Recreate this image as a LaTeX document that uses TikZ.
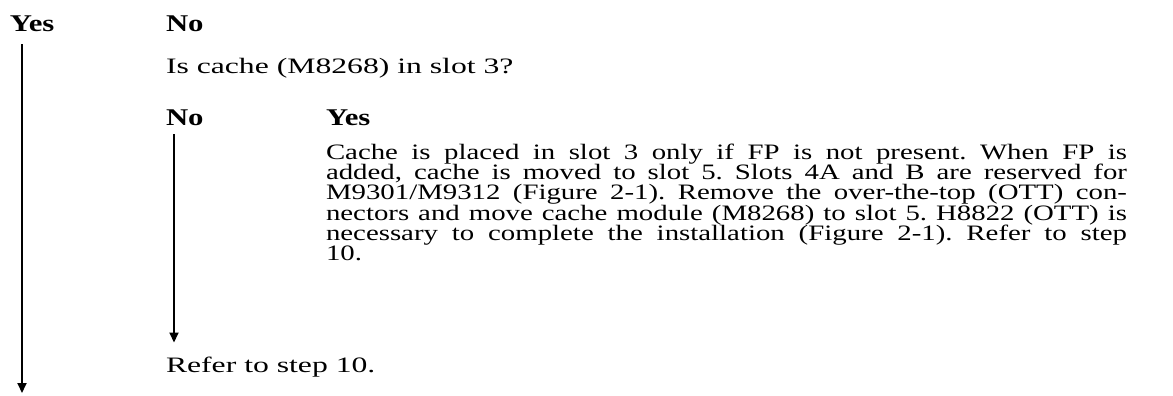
\documentclass[tikz,border=0pt]{standalone}
\usepackage{fontspec}
\setmainfont{Liberation Serif}[FakeStretch=1.28]
\newfontfamily\widefont{Liberation Serif}[FakeStretch=1.44]
\newfontfamily\parafont{Liberation Serif}[FakeStretch=1.31]
\usetikzlibrary{arrows.meta,calc}
\tikzset{
  txt/.style={inner sep=0pt, outer sep=0pt, anchor=base west, font=\widefont\fontsize{11pt}{10.15pt}\selectfont},
  lbl/.style={txt, font=\fontsize{12pt}{10.15pt}\selectfont\bfseries},
  paratxt/.style={txt, font=\parafont\fontsize{11pt}{10.1pt}\selectfont, text width=400.5pt, align=justify},
  arr/.style={line width=1pt, -{Triangle[length=5pt,width=4.5pt]}}
}
\begin{document}
\begin{tikzpicture}[x=0.5pt,y=-0.5pt]
\useasboundingbox (0,0) rectangle (1173,396);
\node[lbl] (yes1) at (10,32) {Yes};
\node[lbl] (no1) at (166,32) {No};
\node[txt] (q) at (166,73) {Is cache (M8268) in slot 3?};
\node[lbl] (no2) at (166,125) {No};
\node[lbl] (yes2) at (326,125) {Yes};
\node[paratxt] (para) at (326,159.5) {\hyphenpenalty=10000\exhyphenpenalty=10000\hfuzz=20pt\frenchspacing\baselineskip=10.1pt\lineskiplimit=-100pt\lineskip=0pt
Cache is placed in slot 3 only if FP is not present. When FP is\linebreak
added, cache is moved to slot 5. Slots 4A and B are reserved for\linebreak
M9301/M9312 (Figure 2-1). Remove the over-the-top (OTT) con-\linebreak
nectors and move cache module (M8268) to slot 5. H8822 (OTT) is\linebreak
necessary to complete the installation (Figure 2-1). Refer to step\linebreak
10.\par};
\node[txt] (refer) at (166,372.5) {Refer to step 10.};
\coordinate (s1) at ($(yes1.base west)+(12,12)$);
\coordinate (e1) at (22,393);
\draw[arr] (s1) -- (e1);
\coordinate (s2) at ($(no2.base west)+(8,9)$);
\coordinate (e2) at ($(refer.base west)+(8,-30)$);
\draw[arr] (s2) -- (e2);
\end{tikzpicture}
\end{document}
